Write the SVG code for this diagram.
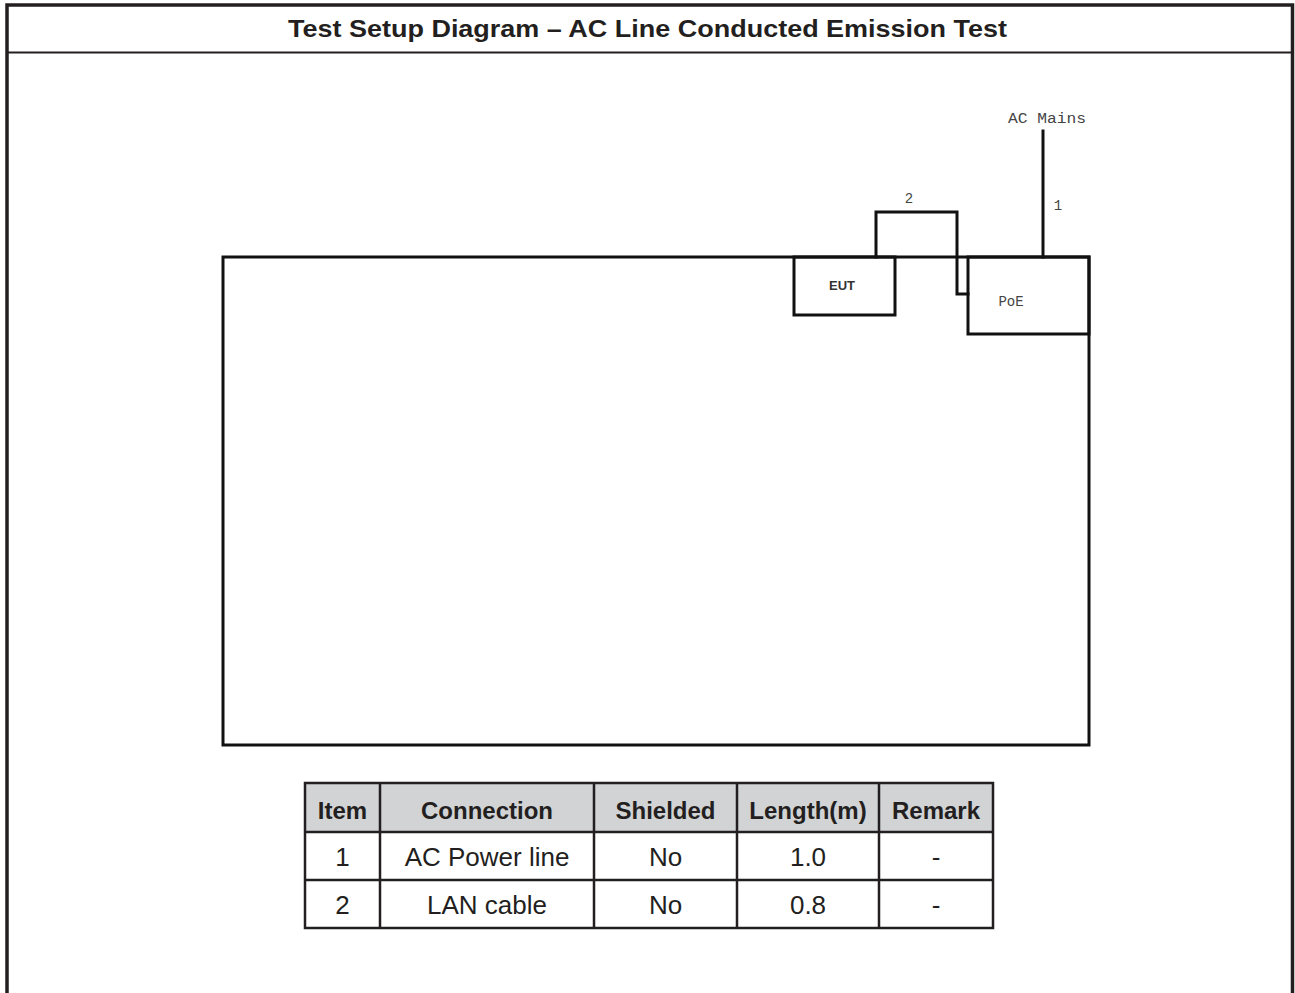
<svg xmlns="http://www.w3.org/2000/svg" width="1295" height="993" viewBox="0 0 1295 993">
<style>
.frame{fill:none;stroke:#231f20}
.dl{fill:none;stroke:#111;stroke-width:3;stroke-linejoin:miter;stroke-linecap:square}
.title{font-family:"Liberation Sans",Arial,sans-serif;font-weight:bold;font-size:24px;fill:#231f20;text-anchor:middle}
.th{font-family:"Liberation Sans",Arial,sans-serif;font-weight:bold;font-size:24px;fill:#231f20;text-anchor:middle}
.td{font-family:"Liberation Sans",Arial,sans-serif;font-size:26px;fill:#231f20;text-anchor:middle}
.lbl{font-family:"Liberation Mono","DejaVu Sans Mono",monospace;font-size:14px;fill:#444;text-anchor:middle}
.eut{font-family:"Liberation Sans",Arial,sans-serif;font-weight:bold;font-size:13px;fill:#333;text-anchor:middle}
.grid{fill:none;stroke:#231f20;stroke-width:2.5}
</style>
<rect width="1295" height="993" fill="#fff"/>
<g id="frame">
<path class="frame" d="M7,993 V5 H1292.5 V993" stroke-width="3.5"/>
<line class="frame" x1="7" y1="52.5" x2="1292" y2="52.5" stroke-width="2"/>
<text class="title" x="647.5" y="37" textLength="719" lengthAdjust="spacingAndGlyphs">Test Setup Diagram – AC Line Conducted Emission Test</text>
</g>
<g id="table-node">
<rect x="305" y="783" width="688" height="49" fill="#d1d3d4"/>
<rect class="grid" x="305" y="783" width="688" height="145"/>
<path class="grid" d="M305,832 H993 M305,880 H993 M380,783 V928 M594,783 V928 M737,783 V928 M879,783 V928"/>
<text class="th" x="342.5" y="819">Item</text>
<text class="th" x="487" y="819">Connection</text>
<text class="th" x="665.5" y="819">Shielded</text>
<text class="th" x="808" y="819">Length(m)</text>
<text class="th" x="936" y="819">Remark</text>
<text class="td" x="342.5" y="866">1</text>
<text class="td" x="487" y="866">AC Power line</text>
<text class="td" x="665.5" y="866">No</text>
<text class="td" x="808" y="866">1.0</text>
<text class="td" x="936" y="866">-</text>
<text class="td" x="342.5" y="914">2</text>
<text class="td" x="487" y="914">LAN cable</text>
<text class="td" x="665.5" y="914">No</text>
<text class="td" x="808" y="914">0.8</text>
<text class="td" x="936" y="914">-</text>
</g>
<g id="table-plane">
<rect class="dl" x="223" y="257" width="866" height="488"/>
</g>
<g id="eut">
<rect class="dl" x="794" y="257" width="101" height="58"/>
<text class="eut" x="842" y="290">EUT</text>
</g>
<g id="poe">
<rect class="dl" x="968" y="257" width="121" height="77"/>
<text class="lbl" x="1011" y="306">PoE</text>
</g>
<g id="ac-mains">
<text class="lbl" x="1047" y="123" textLength="78" lengthAdjust="spacingAndGlyphs">AC Mains</text>
</g>
<g id="connectors">
<path class="dl" d="M1043,131 V257"/>
<path class="dl" d="M876,257 V212 H957 V294 H968"/>
<text class="lbl" x="1058" y="210">1</text>
<text class="lbl" x="909" y="203">2</text>
</g>
</svg>
